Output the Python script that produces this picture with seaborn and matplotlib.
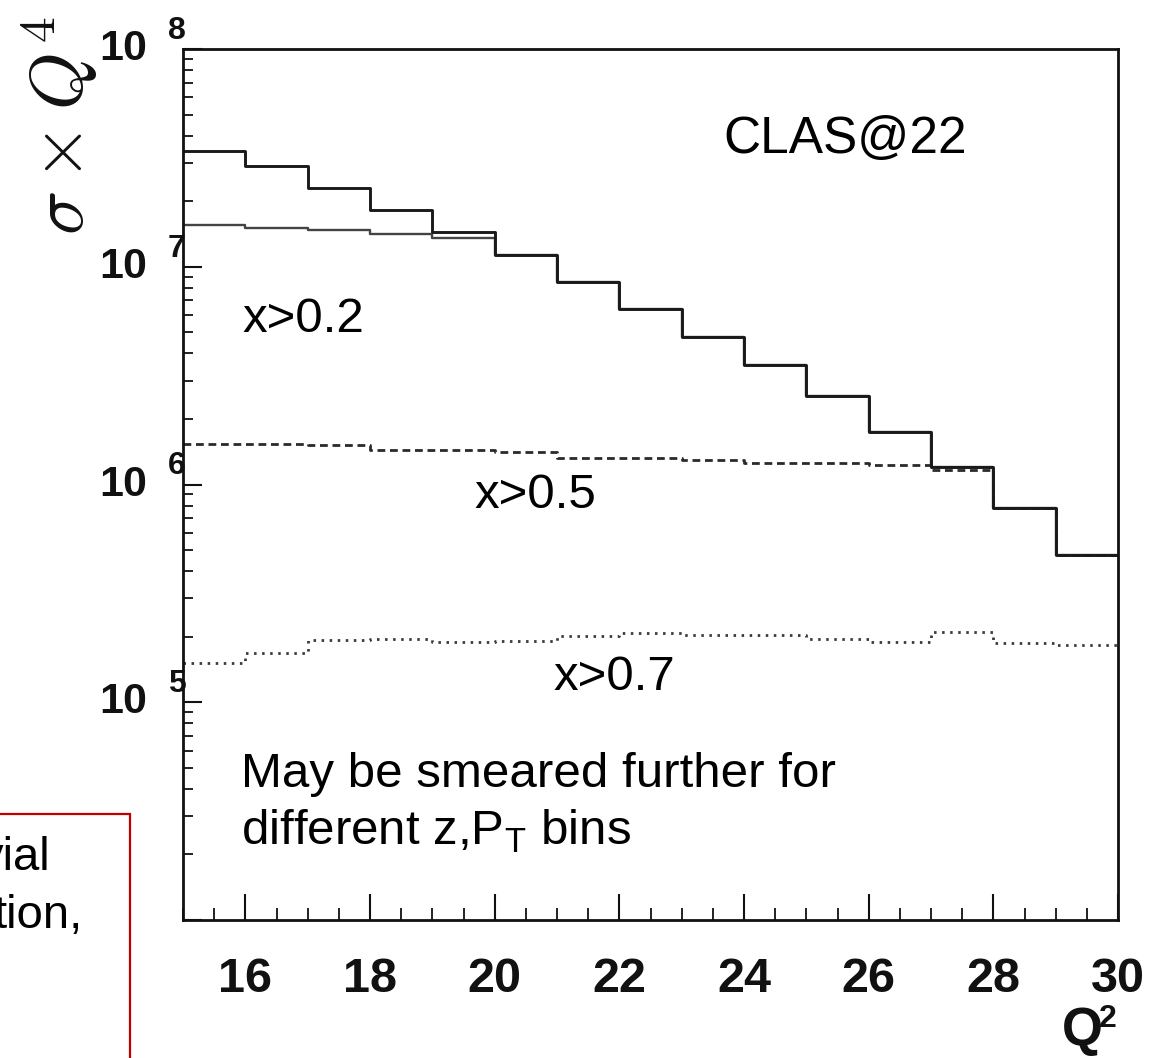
import numpy as np
import pandas as pd
import matplotlib
matplotlib.use("Agg")
import matplotlib.pyplot as plt
import matplotlib.transforms as mtransforms
from matplotlib.ticker import LogLocator, MultipleLocator, NullFormatter, FixedLocator
from matplotlib.patches import Rectangle
import seaborn as sns

# ---------------- data ----------------
q2_edges = [15, 16, 17, 18, 19, 20, 21, 22, 23, 24, 25, 26, 27, 28, 29, 30]
sigma_all = [3.41e7, 2.90e7, 2.31e7, 1.83e7, 1.45e7, 1.13e7, 8.55e6, 6.38e6,
             4.77e6, 3.52e6, 2.54e6, 1.75e6, 1.20e6, 7.77e5, 4.72e5]
sigma_x02 = [1.56e7, 1.51e7, 1.47e7, 1.42e7, 1.36e7, 1.13e7, 8.55e6, 6.38e6,
             4.77e6, 3.52e6, 2.54e6, 1.75e6, 1.20e6, 7.77e5, 4.72e5]
sigma_x05 = [1.54e6, 1.535e6, 1.52e6, 1.44e6, 1.44e6, 1.41e6, 1.33e6, 1.33e6,
             1.29e6, 1.26e6, 1.26e6, 1.23e6, 1.17e6, 7.77e5, 4.72e5]
sigma_x07 = [1.52e5, 1.68e5, 1.94e5, 1.95e5, 1.89e5, 1.92e5, 2.02e5, 2.07e5,
             2.03e5, 2.03e5, 1.96e5, 1.89e5, 2.10e5, 1.87e5, 1.84e5]
x_tick_values = [16, 18, 20, 22, 24, 26, 28, 30]
y_exponents = [5, 6, 7, 8]

# ---------------- style ----------------
sns.set_theme(style="ticks")
plt.rcParams["font.family"] = ["Liberation Sans", "DejaVu Sans"]
BOLD_NARROW = ["Liberation Sans Narrow", "Noto Sans Condensed",
               "DejaVu Sans Condensed", "Liberation Sans", "DejaVu Sans"]

W, H, DPI = 1159, 1058, 100
fig = plt.figure(figsize=(W / DPI, H / DPI), dpi=DPI)
fig.patch.set_facecolor("white")


def fx(px):
    return px / W


def fy(py):
    return 1 - py / H


ax = fig.add_axes([fx(183), fy(920), fx(1118) - fx(183), fy(49) - fy(920)])
ax.set_facecolor("white")


def steps(vals):
    return pd.DataFrame({"Q2": q2_edges, "sigma": list(vals) + [vals[-1]]})


ax.set_yscale("log")
sns.lineplot(data=steps(sigma_x07), x="Q2", y="sigma", ax=ax, estimator=None,
             sort=False, drawstyle="steps-post", color="#3a3a3a", lw=2.0,
             linestyle=(0, (0.9, 2.0)))
sns.lineplot(data=steps(sigma_x05), x="Q2", y="sigma", ax=ax, estimator=None,
             sort=False, drawstyle="steps-post", color="#2a2a2a", lw=2.0,
             linestyle=(0, (2.8, 1.7)))
sns.lineplot(data=steps(sigma_x02), x="Q2", y="sigma", ax=ax, estimator=None,
             sort=False, drawstyle="steps-post", color="#444444", lw=1.7)
sns.lineplot(data=steps(sigma_all), x="Q2", y="sigma", ax=ax, estimator=None,
             sort=False, drawstyle="steps-post", color="#1a1a1a", lw=2.1)

ax.set_xlim(15, 30)
ax.set_ylim(1e4, 1e8)
ax.set_xlabel("")
ax.set_ylabel("")

for s in ax.spines.values():
    s.set_visible(True)
    s.set_linewidth(2.0)
    s.set_color("#111111")

ax.xaxis.set_major_locator(FixedLocator(x_tick_values))
ax.xaxis.set_minor_locator(MultipleLocator(0.5))
ax.tick_params(axis="x", which="major", direction="in", length=19, width=1.5,
               color="#111111", bottom=True, top=False, pad=27)
ax.tick_params(axis="x", which="minor", direction="in", length=9, width=1.3,
               color="#111111", bottom=True, top=False)
ax.set_xticklabels([str(v) for v in x_tick_values])
for lab in ax.get_xticklabels():
    lab.set_fontfamily(BOLD_NARROW)
    lab.set_fontweight("bold")
    lab.set_fontstretch("condensed")
    lab.set_fontsize(35)
    lab.set_color("#111111")

ax.yaxis.set_major_locator(LogLocator(base=10, numticks=10))
ax.yaxis.set_minor_locator(LogLocator(base=10, subs=np.arange(2, 10), numticks=100))
ax.yaxis.set_minor_formatter(NullFormatter())
ax.tick_params(axis="y", which="major", direction="in", length=14, width=1.5,
               color="#111111", left=True, right=False, labelleft=False)
ax.tick_params(axis="y", which="minor", direction="in", length=7, width=1.3,
               color="#111111", left=True, right=False)

# y tick labels: "10" + raised exponent
ytr = ax.get_yaxis_transform()
for e in y_exponents:
    ax.text(-0.0385, 10.0 ** e, "10", transform=ytr, ha="right", va="center",
            fontsize=31, fontweight="bold", fontstretch="condensed",
            family=BOLD_NARROW, color="#111111", clip_on=False)
    ax.text(-0.016, 10.0 ** e, str(e),
            transform=mtransforms.offset_copy(ytr, fig=fig, x=0, y=10, units="dots"),
            ha="left", va="baseline", fontsize=23, fontweight="bold",
            fontstretch="condensed", family=BOLD_NARROW, color="#111111",
            clip_on=False)

# axis titles
fig.text(fx(60), fy(126), r"$\sigma\times Q^4$", rotation=90, ha="center",
         va="center", fontsize=53, math_fontfamily="cm", color="#111111")
fig.text(fx(1062), fy(1045), "Q", ha="left", va="baseline", fontsize=38,
         fontweight="bold", fontstretch="condensed", family=BOLD_NARROW,
         color="#111111")
fig.text(fx(1099), fy(1027), "2", ha="left", va="baseline", fontsize=23,
         fontweight="bold", fontstretch="condensed", family=BOLD_NARROW,
         color="#111111")

# annotations
TXT = dict(ha="left", va="baseline", fontsize=35.5, color="black")
fig.text(fx(723), fy(153), "CLAS@22", ha="left", va="baseline", fontsize=37,
         color="black")
fig.text(fx(242), fy(332), "x>0.2", **TXT)
fig.text(fx(474), fy(508), "x>0.5", **TXT)
fig.text(fx(553), fy(690), "x>0.7", **TXT)
fig.text(fx(241), fy(787), "May be smeared further for", **TXT)
fig.text(fx(241), fy(845), r"different z,P$_\mathregular{T}$ bins", **TXT)

# partially visible red note box at the lower left
fig.patches.append(Rectangle((-0.02, -0.02), fx(130) + 0.02, fy(814) + 0.02,
                             transform=fig.transFigure, fill=False,
                             edgecolor="#c00000", linewidth=1.6))
fig.text(fx(50), fy(870), "vial", ha="right", va="baseline", fontsize=34,
         color="black")
fig.text(fx(82), fy(928), "tion,", ha="right", va="baseline", fontsize=34,
         color="black")

fig.savefig("out.png", dpi=DPI, facecolor="white")
